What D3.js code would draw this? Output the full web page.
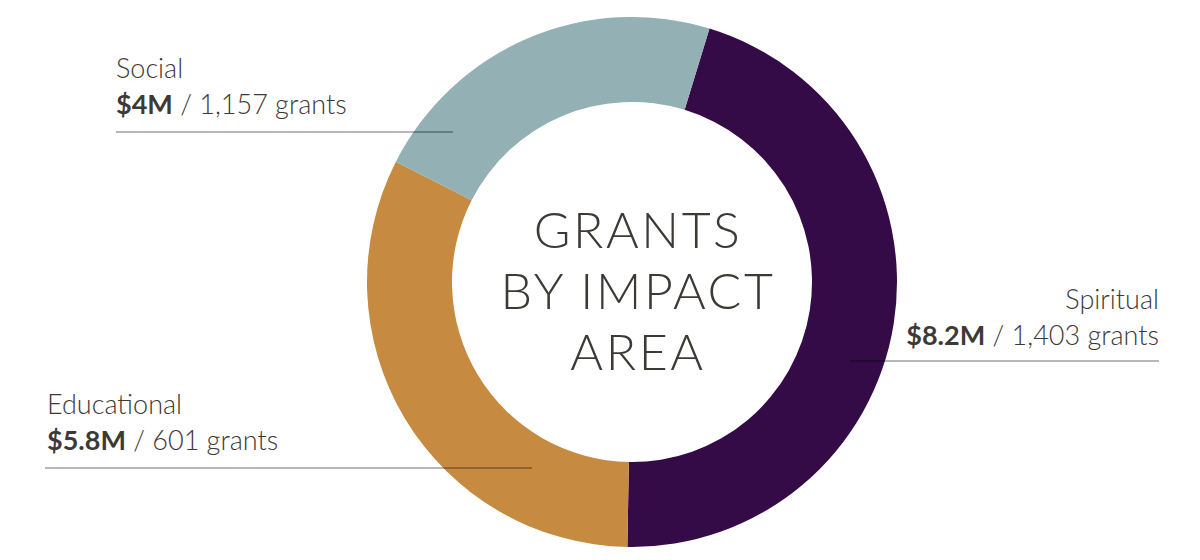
<!DOCTYPE html>
<html>
<head>
<meta charset="utf-8">
<script src="https://cdn.jsdelivr.net/npm/d3@7"></script>
<style>
  html, body { margin: 0; padding: 0; background: #fff; }
  svg { display: block; }
  text { font-family: "Lato", "Source Sans Pro", "Open Sans", sans-serif; }
</style>
</head>
<body>
<svg id="chart" width="1200" height="560"></svg>
<script>
// ---- data ----
const categories = ["Spiritual", "Educational", "Social"];
const amounts = [8.2, 5.8, 4];              // $ millions
const amountLabels = ["$8.2M", "$5.8M", "$4M"];
const grantCounts = ["1,403", "601", "1,157"];
const centerTitle = ["GRANTS", "BY IMPACT", "AREA"];

// ---- style / layout ----
const palette = ["#340b47", "#c68a40", "#93b0b4"];
const cx = 632, cy = 282, outerR = 265, innerR = 180;
const startDeg = 17;
const labelLayout = {
  Spiritual:   { x: 1159, anchor: "end",   y1: 309, y2: 345, ruleY: 361, rx1: 850, rx2: 1159 },
  Educational: { x: 47,   anchor: "start", y1: 414, y2: 450, ruleY: 468, rx1: 45,  rx2: 532 },
  Social:      { x: 116,  anchor: "start", y1: 78,  y2: 114, ruleY: 132, rx1: 116, rx2: 453 }
};

const svg = d3.select("#chart");
const color = d3.scaleOrdinal().domain(categories).range(palette);

const data = categories.map((c, i) => ({
  name: c, value: amounts[i], amount: amountLabels[i], grants: grantCounts[i]
}));

const start = startDeg * Math.PI / 180;
const pie = d3.pie().value(d => d.value).sort(null)
  .startAngle(start).endAngle(start + 2 * Math.PI);
const arc = d3.arc().innerRadius(innerR).outerRadius(outerR);

const g = svg.append("g").attr("transform", `translate(${cx},${cy})`);
g.selectAll("path").data(pie(data)).join("path")
  .attr("d", arc)
  .attr("fill", d => color(d.data.name));

// center title
centerTitle.forEach((t, i) => {
  svg.append("text")
    .attr("x", 638).attr("y", 248 + i * 61)
    .attr("text-anchor", "middle")
    .attr("fill", "#3d3935")
    .style("font-size", "50px").style("font-weight", 300)
    .style("letter-spacing", "2.6px")
    .text(t);
});

// labels
data.forEach(d => {
  const L = labelLayout[d.name];
  svg.append("line")
    .attr("x1", L.rx1).attr("x2", L.rx2)
    .attr("y1", L.ruleY).attr("y2", L.ruleY)
    .attr("stroke", "rgba(0,0,0,0.38)").attr("stroke-width", 1.5);
  svg.append("text")
    .attr("x", L.x).attr("y", L.y1).attr("text-anchor", L.anchor)
    .attr("fill", "#3d3935")
    .style("font-size", "27px").style("font-weight", 300)
    .text(d.name);
  const t2 = svg.append("text")
    .attr("x", L.x).attr("y", L.y2).attr("text-anchor", L.anchor)
    .attr("fill", "#3d3935")
    .style("font-size", "27px").style("font-weight", 300);
  t2.append("tspan").style("font-weight", 700).text(d.amount);
  t2.append("tspan").text(" / " + d.grants + " grants");
});
</script>
</body>
</html>
